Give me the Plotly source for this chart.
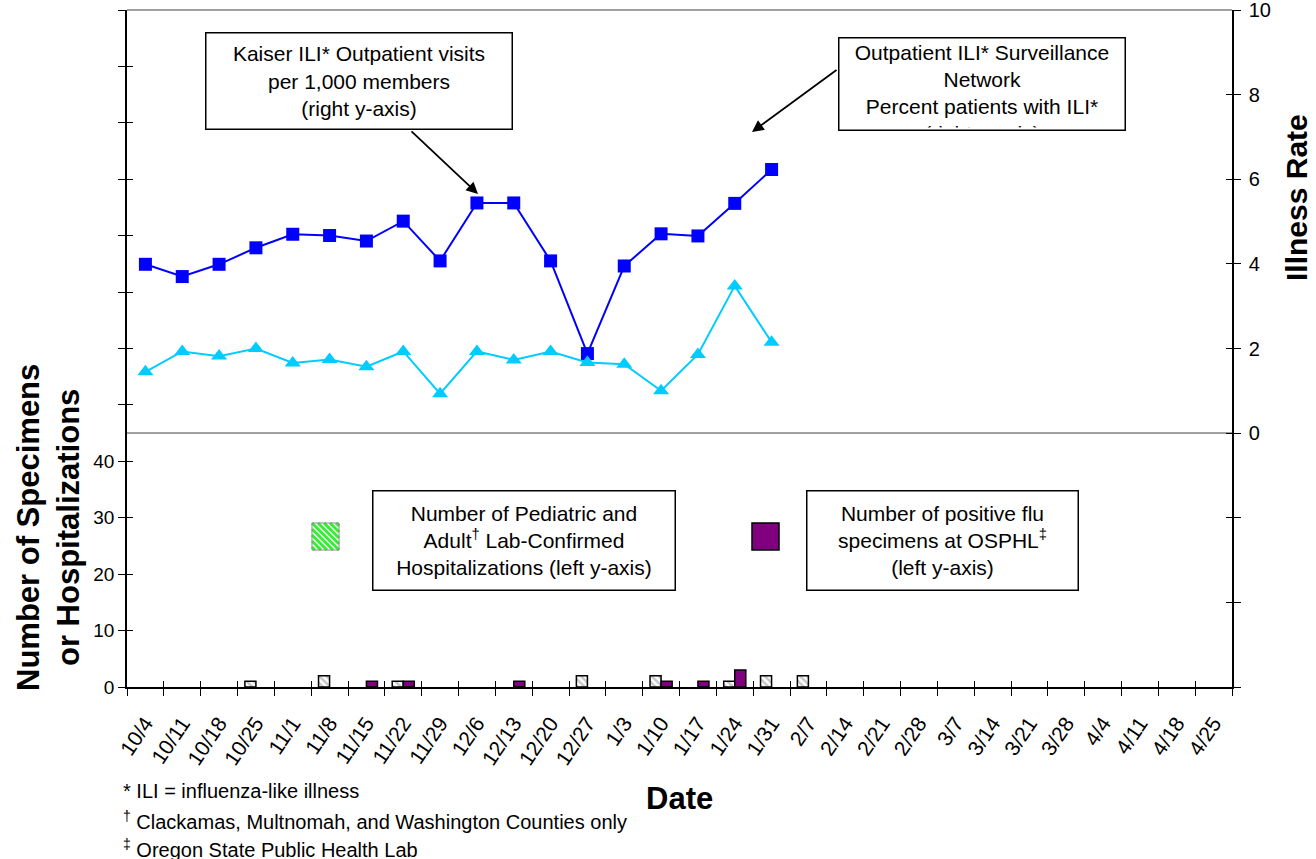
import plotly.graph_objects as go

# week labels (x axis)
weeks = ['10/4', '10/11', '10/18', '10/25', '11/1', '11/8', '11/15', '11/22',
         '11/29', '12/6', '12/13', '12/20', '12/27', '1/3', '1/10', '1/17',
         '1/24', '1/31', '2/7', '2/14', '2/21', '2/28', '3/7', '3/14',
         '3/21', '3/28', '4/4', '4/11', '4/18', '4/25']

# illness rates (right y-axis)
kaiser_ili = [3.99, 3.70, 3.99, 4.38, 4.70, 4.67, 4.54, 5.01, 4.07, 5.44,
              5.44, 4.07, 1.88, 3.95, 4.71, 4.66, 5.43, 6.23]
surveillance_ili = [1.45, 1.93, 1.82, 2.00, 1.66, 1.74, 1.57, 1.93, 0.93, 1.93,
                    1.73, 1.93, 1.67, 1.63, 1.00, 1.86, 3.48, 2.15]

# counts (left y-axis), None = nothing reported
hospitalizations = [None, None, None, 1, None, 2, None, 1, None, None,
                    None, None, 2, None, 2, None, 1, 2, 2]
osphl_positive = [None, None, None, None, None, None, 1, 1, None, None,
                  1, None, None, None, 1, 1, 3, None, None]

left_ticks = list(range(0, 121, 10))
right_ticks = list(range(-6, 11, 2))

W, H = 1316, 859
L, R, T, B = 127, 84, 10, 172
PW, PH = W - L - R, H - T - B

FONT = 'Arial, Liberation Sans, sans-serif'


def px(x):
    # screen x -> paper
    return (x - L) / PW


def py(y):
    # screen y -> paper
    return (H - B - y) / PH


fig = go.Figure()

fig.add_trace(go.Bar(
    x=weeks[:len(hospitalizations)], y=hospitalizations, yaxis='y',
    name='Hospitalizations',
    marker=dict(color='white', line=dict(color='black', width=1.5),
                pattern=dict(shape='\\', fgcolor='#909090', bgcolor='white',
                             size=5, solidity=0.5)),
))
fig.add_trace(go.Bar(
    x=weeks[:len(osphl_positive)], y=osphl_positive, yaxis='y',
    name='OSPHL',
    marker=dict(color='#800080', line=dict(color='black', width=1.5)),
))
fig.add_trace(go.Scatter(
    x=weeks[:len(kaiser_ili)], y=kaiser_ili, yaxis='y2', mode='lines+markers',
    name='Kaiser', line=dict(color='#0000FF', width=2),
    marker=dict(symbol='square', size=13, color='#0000FF'),
))
fig.add_trace(go.Scatter(
    x=weeks[:len(surveillance_ili)], y=surveillance_ili, yaxis='y2',
    mode='lines+markers', name='Surveillance',
    line=dict(color='#00CCFF', width=2),
    marker=dict(symbol='triangle-up', size=14, color='#00CCFF'),
))

# empty traces so the inside-tick axes get drawn (ticks cross the axis lines)
empty = [None] * len(weeks)
fig.add_trace(go.Scatter(x=weeks, y=empty, xaxis='x2', yaxis='y3',
                         hoverinfo='skip'))
fig.add_trace(go.Scatter(x=weeks, y=empty, xaxis='x2', yaxis='y4',
                         hoverinfo='skip'))

tick_common = dict(tickcolor='black', showgrid=False, automargin=False)

fig.update_layout(
    width=W, height=H,
    margin=dict(l=L, r=R, t=T, b=B),
    paper_bgcolor='white', plot_bgcolor='white',
    font=dict(family=FONT, color='black', size=19),
    showlegend=False,
    barmode='group', bargap=0.4, bargroupgap=0,
    xaxis=dict(type='category', categoryorder='array', categoryarray=weeks,
               range=[-0.5, len(weeks) - 0.5], tickson='boundaries',
               ticks='outside', ticklen=7, showline=True, linecolor='black',
               linewidth=1.5, tickangle=-56, tickfont=dict(size=21),
               ticklabelstandoff=14, **tick_common),
    xaxis2=dict(type='category', categoryorder='array', categoryarray=weeks,
                range=[-0.5, len(weeks) - 0.5], tickson='boundaries',
                overlaying='x', anchor='y', ticks='inside', ticklen=6,
                showticklabels=False, showline=False, **tick_common),
    yaxis=dict(range=[0, 120], tickvals=left_ticks,
               ticktext=[str(v) if v <= 40 else '' for v in left_ticks],
               ticks='outside', ticklen=7, showline=True, linecolor='black',
               linewidth=1.5, zeroline=False, tickfont=dict(size=19),
               **tick_common),
    yaxis2=dict(range=[-6, 10], overlaying='y', side='right',
                tickvals=right_ticks,
                ticktext=[str(v) if v >= 0 else '' for v in right_ticks],
                ticks='outside', ticklen=7, showline=True, linecolor='black',
                linewidth=1.5, zeroline=True, zerolinecolor='#a0a0a0',
                zerolinewidth=2, tickfont=dict(size=20),
                ticklabeloverflow='allow', ticklabelstandoff=4,
                **tick_common),
    yaxis3=dict(range=[0, 120], tickvals=left_ticks, overlaying='y',
                side='left', anchor='x2', ticks='inside', ticklen=6,
                showticklabels=False, showline=False, zeroline=False,
                **tick_common),
    yaxis4=dict(range=[-6, 10], tickvals=right_ticks, overlaying='y',
                side='right', anchor='x2', ticks='inside', ticklen=6,
                showticklabels=False, showline=False, zeroline=False,
                **tick_common),
)

# gray frame line at the top of the plot area
fig.add_shape(type='line', xref='paper', yref='paper', x0=0, x1=1, y0=1, y1=1,
              line=dict(color='#a0a0a0', width=2))

# boxed labels
boxes = [
    ('Kaiser ILI* Outpatient visits<br>per 1,000 members<br>(right y-axis)',
     205, 512, 33, 130, 'middle'),
    ('Outpatient ILI* Surveillance<br>Network<br>Percent patients with ILI*'
     '<br>(right y-axis)', 838, 1125, 37, 130, 'top'),
    ('Number of Pediatric and<br>Adult<sup>†</sup> Lab-Confirmed<br>'
     'Hospitalizations (left y-axis)', 372, 675, 490, 590, 'middle'),
    ('Number of positive flu<br>specimens at OSPHL<sup>‡</sup><br>'
     '(left y-axis)', 806, 1078, 490, 590, 'middle'),
]
for text, x0, x1, y0, y1, valign in boxes:
    fig.add_annotation(
        text=text, xref='paper', yref='paper',
        x=px((x0 + x1) / 2), y=py((y0 + y1) / 2),
        xanchor='center', yanchor='middle', showarrow=False,
        width=x1 - x0 - 6, height=y1 - y0 - 6, borderpad=2, valign=valign,
        bordercolor='black', borderwidth=1.5, bgcolor='white',
        font=dict(size=21),
    )

# arrows from the boxes to the series
for hx, hy, tx, ty in [(478, 194, 410, 130), (752, 132, 838, 69)]:
    fig.add_annotation(
        text='', xref='paper', yref='paper', x=px(hx), y=py(hy),
        ax=tx - hx, ay=ty - hy, showarrow=True,
        arrowhead=2, arrowsize=1.3, arrowwidth=1.8, arrowcolor='black',
    )

# legend swatches
sw = 27
gx, gy = 312, 523
fig.add_shape(type='rect', xref='paper', yref='paper',
              x0=px(gx), x1=px(gx + sw), y0=py(gy + sw), y1=py(gy),
              fillcolor='white', line=dict(width=0))
for d in range(-sw + 3, sw, 6):
    if d >= 0:
        a, b = (gx + d, gy), (gx + sw, gy + sw - d)
    else:
        a, b = (gx, gy - d), (gx + sw + d, gy + sw)
    fig.add_shape(type='line', xref='paper', yref='paper',
                  x0=px(a[0]), y0=py(a[1]), x1=px(b[0]), y1=py(b[1]),
                  line=dict(color='#33ee33', width=3))
fig.add_shape(type='rect', xref='paper', yref='paper',
              x0=px(gx), x1=px(gx + sw), y0=py(gy + sw), y1=py(gy),
              line=dict(color='#888888', width=1))
fig.add_shape(type='rect', xref='paper', yref='paper',
              x0=px(752), x1=px(752 + sw), y0=py(523 + sw), y1=py(523),
              fillcolor='#800080', line=dict(color='black', width=1.5))

# axis titles
fig.add_annotation(text='<b>Number of Specimens<br>or Hospitalizations</b>',
                   xref='paper', yref='paper', x=px(48), y=py(528),
                   textangle=-90, showarrow=False, font=dict(size=31),
                   xanchor='center', yanchor='middle')
fig.add_annotation(text='<b>Illness Rate</b>', xref='paper', yref='paper',
                   x=px(1296), y=py(198), textangle=-90, showarrow=False,
                   font=dict(size=30), xanchor='center', yanchor='middle')
fig.add_annotation(text='<b>Date</b>', xref='paper', yref='paper',
                   x=px(679), y=py(798), showarrow=False, font=dict(size=31),
                   xanchor='center', yanchor='middle')

# footnotes
notes = [
    ('* ILI = influenza-like illness', 791),
    ('<sup>†</sup> Clackamas, Multnomah, and Washington Counties only', 820),
    ('<sup>‡</sup> Oregon State Public Health Lab', 848),
]
for text, y in notes:
    fig.add_annotation(text=text, xref='paper', yref='paper', x=px(121),
                       y=py(y), xanchor='left', yanchor='middle',
                       showarrow=False, font=dict(size=20))

# drop the page's default body margin so the figure sits at the window corner
fig.write_html('out.html', config={'displayModeBar': False},
               post_script="document.body.style.margin = '0';")
